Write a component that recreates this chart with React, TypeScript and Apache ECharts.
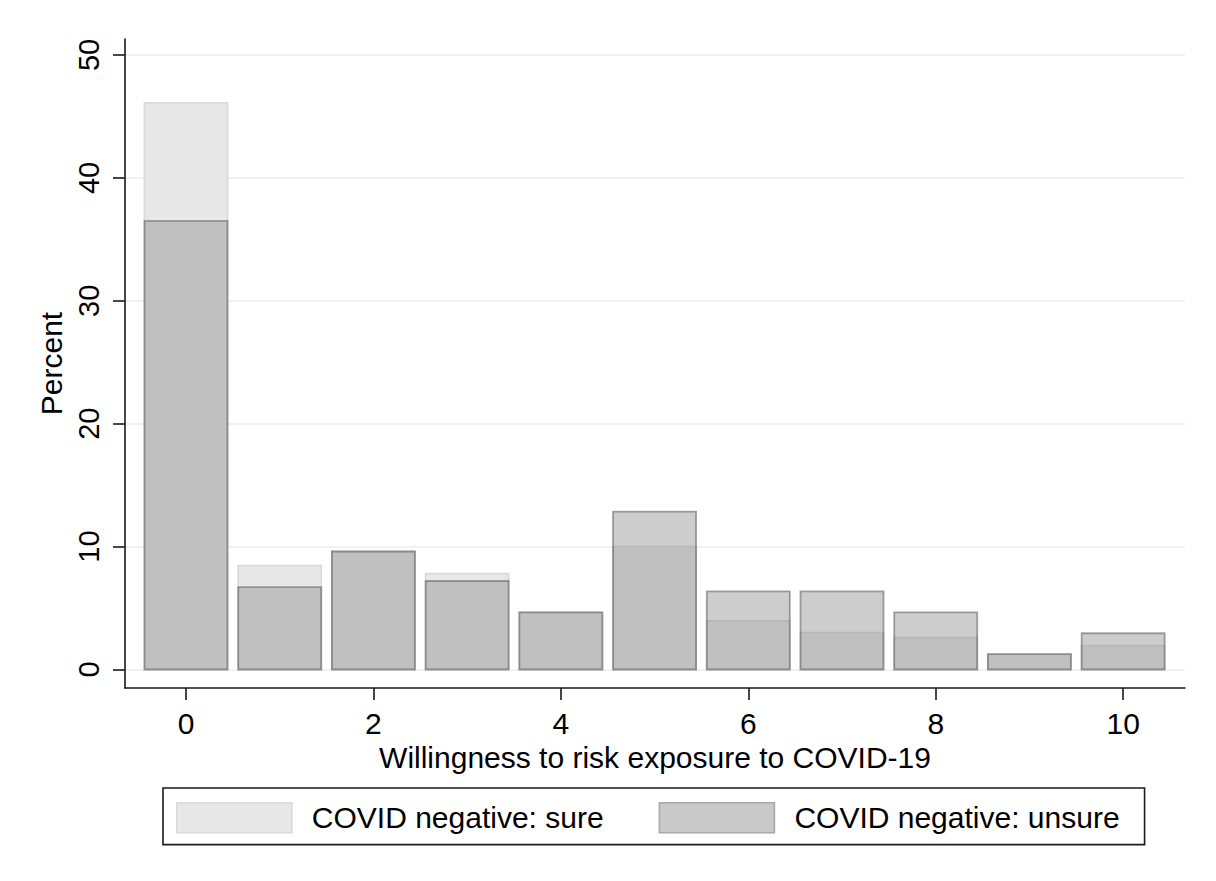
import React, { useEffect, useRef } from "react";
import * as echarts from "echarts";

const categories = [0, 1, 2, 3, 4, 5, 6, 7, 8, 9, 10];
const sureValues = [46.1, 8.45, 9.6, 7.8, 4.65, 10.0, 3.95, 3.0, 2.6, 1.25, 1.95];
const unsureValues = [36.5, 6.7, 9.6, 7.2, 4.65, 12.85, 6.35, 6.35, 4.65, 1.25, 2.95];
const xTicks = [0, 2, 4, 6, 8, 10];
const yTicks = [0, 10, 20, 30, 40, 50];
const seriesNames = ["COVID negative: sure", "COVID negative: unsure"];
const xTitle = "Willingness to risk exposure to COVID-19";
const yTitle = "Percent";

const FONT = "'Liberation Sans', Arial, Helvetica, sans-serif";
const HALF = 0.443;

const SURE_FILL = "#e8e8e8";
const SURE_STROKE = "#dadada";
const UNSURE_FILL = "rgba(140,140,140,0.43)";
const UNSURE_STROKE = "rgba(80,80,80,0.5)";

function makeRender(fill: string, stroke: string) {
  return (params: any, api: any) => {
    const x = api.value(0);
    const y = api.value(1);
    const p0 = api.coord([x - HALF, y]);
    const p1 = api.coord([x + HALF, 0]);
    return {
      type: "rect",
      shape: { x: p0[0], y: p0[1], width: p1[0] - p0[0], height: p1[1] - p0[1] },
      style: { fill, stroke, lineWidth: 1.8 },
    };
  };
}

export default function App() {
  const ref = useRef<HTMLDivElement>(null);
  useEffect(() => {
    document.body.style.margin = "0";
    const chart = echarts.init(ref.current!, null, { renderer: "svg" });
    const sureData = categories.map((c, i) => [c, sureValues[i]]);
    const unsureData = categories.map((c, i) => [c, unsureValues[i]]);
    chart.setOption({
      animation: false,
      backgroundColor: "#ffffff",
      textStyle: { fontFamily: FONT },
      grid: { left: 125, right: 31, top: 39, bottom: 193, containLabel: false },
      xAxis: {
        type: "value",
        min: -0.651,
        max: 10.66,
        name: xTitle,
        nameLocation: "middle",
        nameGap: 48,
        nameTextStyle: { fontSize: 30, color: "#000", fontFamily: FONT },
        axisLine: { show: true, onZero: false, lineStyle: { color: "#1a1a1a", width: 1.6 } },
        axisTick: { show: true, length: 12, customValues: xTicks, lineStyle: { color: "#1a1a1a", width: 1.6 } },
        axisLabel: { customValues: xTicks, fontSize: 30, color: "#000", margin: 20, fontFamily: FONT },
        splitLine: { show: false },
      },
      yAxis: {
        type: "value",
        min: -1.505,
        max: 51.3,
        name: yTitle,
        nameLocation: "middle",
        nameRotate: 90,
        nameGap: 56,
        nameTextStyle: { fontSize: 30, color: "#000", fontFamily: FONT },
        axisLine: { show: true, onZero: false, lineStyle: { color: "#1a1a1a", width: 1.6 } },
        axisTick: { show: true, length: 12, customValues: yTicks, lineStyle: { color: "#1a1a1a", width: 1.6 } },
        axisLabel: { customValues: yTicks, rotate: 90, fontSize: 29, color: "#000", margin: 22, fontFamily: FONT },
        splitLine: { show: true, lineStyle: { color: "#ededed", width: 1.6 } },
      },
      legend: {
        left: 163,
        top: 788,
        orient: "horizontal",
        selectedMode: false,
        borderColor: "#1a1a1a",
        borderWidth: 1.6,
        padding: [14, 25, 11, 13],
        itemWidth: 115,
        itemHeight: 30,
        itemGap: 55,
        textStyle: { fontSize: 30, color: "#000", fontFamily: FONT, padding: [0, 0, 0, 15] },
        data: [
          { name: seriesNames[0], icon: "rect", itemStyle: { color: SURE_FILL, borderColor: SURE_STROKE, borderWidth: 1.6 } },
          { name: seriesNames[1], icon: "rect", itemStyle: { color: "#c9c9c9", borderColor: "#a8a8a8", borderWidth: 1.6 } },
        ],
      },
      series: [
        {
          name: seriesNames[0],
          type: "custom",
          renderItem: makeRender(SURE_FILL, SURE_STROKE),
          itemStyle: { color: SURE_FILL },
          encode: { x: 0, y: 1 },
          data: sureData,
          silent: true,
        },
        {
          name: seriesNames[1],
          type: "custom",
          renderItem: makeRender(UNSURE_FILL, UNSURE_STROKE),
          itemStyle: { color: "#c9c9c9" },
          encode: { x: 0, y: 1 },
          data: unsureData,
          silent: true,
        },
      ],
    });
    return () => chart.dispose();
  }, []);
  return <div ref={ref} style={{ width: 1216, height: 881 }} />;
}
